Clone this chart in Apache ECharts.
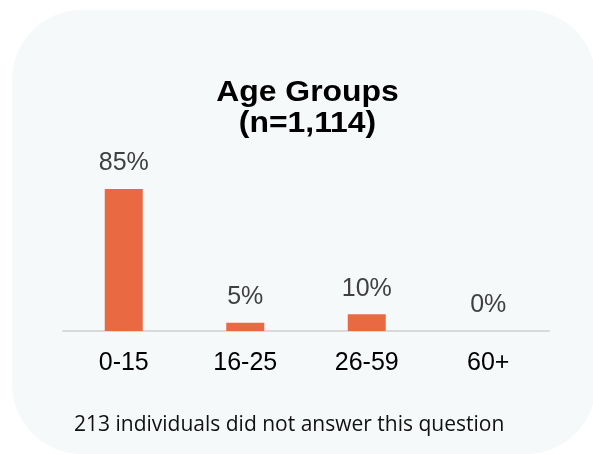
<!DOCTYPE html>
<html><head><meta charset="utf-8">
<script src="https://cdn.jsdelivr.net/npm/echarts@6/dist/echarts.min.js"></script>
<style>html,body{margin:0;padding:0;background:#fff}#c{width:593px;height:454px}</style>
</head><body><div id="c"></div>
<script>
var categories = ['0-15', '16-25', '26-59', '60+'];
var values = [85, 5, 10, 0];
var titleText = 'Age Groups\n(n=1,114)';
var footnote = '213 individuals did not answer this question';

var chart = echarts.init(document.getElementById('c'));
chart.setOption({
  animation: false,
  graphic: [
    { type: 'rect', z: -10, shape: { x: 12, y: 10, width: 584, height: 444, r: 70 }, style: { fill: '#F6F9FA' } },
    { type: 'text', x: 307.5, y: 108, scaleX: 1.1,
      style: { text: titleText, x: 0, y: 0, align: 'center', verticalAlign: 'middle', font: 'bold 29px "Liberation Sans"', lineHeight: 31, fill: '#000' } },
    { type: 'text', x: 74, y: 425, style: { text: footnote, verticalAlign: 'middle', font: '21px "Open Sans"', fill: '#111' } }
  ],
  grid: { left: 63, right: 44, top: 164, bottom: 123 },
  xAxis: {
    type: 'category', data: categories,
    axisLine: { lineStyle: { color: '#D9D9D9', width: 2 } },
    axisTick: { show: false },
    axisLabel: { fontFamily: 'Liberation Sans', fontSize: 25, color: '#000', margin: 20 }
  },
  yAxis: { type: 'value', min: 0, max: 100, show: false, splitLine: { show: false } },
  series: [{
    type: 'bar', data: values, barWidth: 38,
    itemStyle: { color: '#E96A42' },
    label: { show: true, position: 'top', distance: 13, formatter: '{c}%', fontFamily: 'Liberation Sans', fontSize: 25, color: '#404040' }
  }]
});
</script></body></html>
